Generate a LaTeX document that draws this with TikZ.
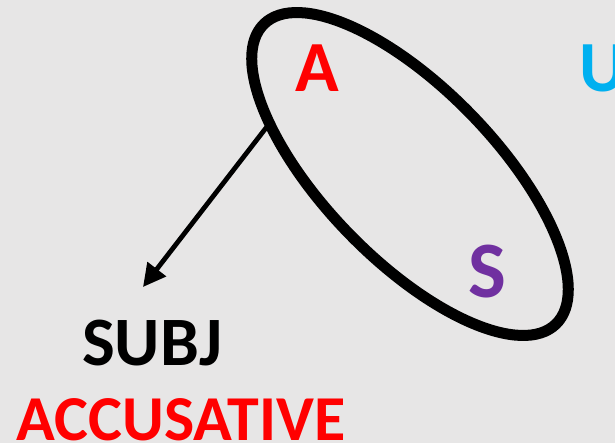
\documentclass[tikz,border=0pt]{standalone}
\usepackage{fontspec}
\setmainfont{Carlito}
\usetikzlibrary{shapes.geometric, arrows.meta}
\definecolor{bgGray}{HTML}{E7E6E6}
\definecolor{agentRed}{HTML}{FF0000}
\definecolor{subjPurple}{HTML}{7030A0}
\definecolor{undCyan}{HTML}{00B0F0}

\begin{document}
\begin{tikzpicture}[
  x=0.75pt, y=-0.75pt,
  role/.style={inner sep=0pt, anchor=base, font=\fontsize{54}{60}\selectfont\bfseries},
  label/.style={inner sep=0pt, anchor=base, font=\fontsize{52}{58}\selectfont\bfseries},
  grouping/.style={draw, ellipse, line width=8.25pt, outer sep=0pt, minimum width=314pt, minimum height=128pt}
]

% Background
\fill[bgGray] (0,0) rectangle (615,443);
\useasboundingbox (0,0) rectangle (615,443);

% Grouping ellipse around A and S
\node[grouping, rotate=-45.8] (grp) at (410,174) {};

% Roles
\node[role, text=agentRed] (roleA) at (317,91.7) {A};
\node[role, text=subjPurple, font=\fontsize{60}{66}\selectfont\bfseries] (roleS) at (487,297) {S};
\node[role, text=undCyan] (roleU) at (603,91.7) {U};

% Labels
\node[label] (subj) at (152,365) {SUBJ};
\node[label, text=agentRed, font=\fontsize{48}{54}\selectfont\bfseries] (acc) at (181,440) {ACCUSATIVE};

% Arrow from ellipse to SUBJ
\coordinate (tip) at (143,287);
\draw[-{Triangle[length=17pt, width=17pt]}, line width=3.6pt] (grp.206) -- (tip);

\end{tikzpicture}
\end{document}
